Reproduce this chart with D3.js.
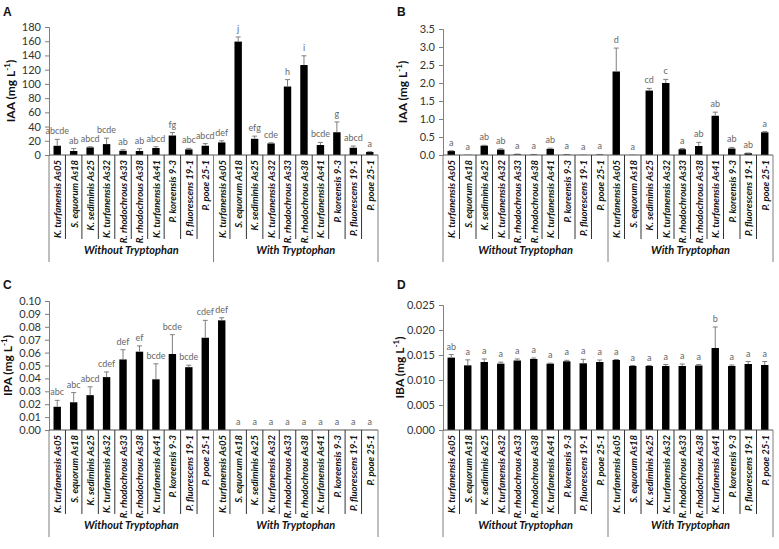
<!DOCTYPE html>
<html><head><meta charset="utf-8">
<script src="https://cdn.jsdelivr.net/npm/d3@7"></script>
<style>body{margin:0;background:#fff}svg{display:block}</style>
</head><body>
<svg id="c" width="779" height="549"></svg>
<script>
const categories = ["K. turfanensis As05","S. equorum As18","K. sediminis As25","K. turfanensis As32","R. rhodochrous As33","R. rhodochrous As38","K. turfanensis As41","P. koreensis 9-3","P. fluorescens 19-1","P. poae 25-1"];
const groups = ["Without Tryptophan","With Tryptophan"];

const iaaA = [13,5.6,10.7,15.3,6,5.6,9.8,27.4,7.9,13, 17.7,159.5,22.8,16.3,96.3,126.5,14,32,10.2,4.2];
const iaaAErr = [9,3.4,0.9,8.4,1.4,3.2,1.8,4.2,1.4,3, 2.3,6.5,3.7,0.9,9.7,13,3.7,14.5,2.4,0.5];
const iaaALetters = ["abcde","ab","abcd","bcde","ab","ab","abcd","fg","abc","abcd","def","j","efg","cde","h","i","bcde","g","abcd","a"];
const iaaATicks = [0,20,40,60,80,100,120,140,160,180];

const iaaB = [0.11,0.005,0.26,0.15,0.02,0.01,0.17,0.01,0.005,0.01, 2.32,0.005,1.79,2.0,0.16,0.25,1.09,0.18,0.05,0.63];
const iaaBErr = [0.01,0,0.01,0.02,0.005,0.005,0.02,0.005,0,0.005, 0.65,0,0.06,0.1,0.02,0.1,0.1,0.03,0.005,0.02];
const iaaBLetters = ["a","a","ab","ab","a","a","ab","a","a","a","d","a","cd","c","a","ab","ab","ab","ab","a"];
const iaaBTicks = [0,0.5,1.0,1.5,2.0,2.5,3.0,3.5];

const ipaC = [0.018,0.0215,0.027,0.041,0.0547,0.0607,0.0393,0.0589,0.0487,0.0715, 0.085,0,0,0,0,0,0,0,0,0];
const ipaCErr = [0.005,0.0075,0.0065,0.004,0.0075,0.0045,0.012,0.015,0.0015,0.0135, 0.002,0,0,0,0,0,0,0,0,0];
const ipaCLetters = ["abc","abc","abcd","cdef","def","ef","bcde","bcde","bcde","cdef","def","a","a","a","a","a","a","a","a","a"];
const ipaCTicks = [0,0.01,0.02,0.03,0.04,0.05,0.06,0.07,0.08,0.09,0.10];

const ibaD = [0.01448,0.01293,0.0136,0.01327,0.0139,0.0142,0.01327,0.01374,0.01334,0.0136, 0.0140,0.0128,0.0128,0.0128,0.0128,0.0129,0.0164,0.0128,0.0132,0.0130];
const ibaDErr = [0.0006,0.0011,0.0006,0.0003,0.0003,0.0002,0.0001,0.0002,0.0008,0.0004, 0.0001,0.0001,0.0001,0.0003,0.0004,0.0002,0.0042,0.0002,0.0005,0.0007];
const ibaDLetters = ["ab","a","a","a","a","a","a","a","a","a","a","a","a","a","a","a","b","a","a","a"];
const ibaDTicks = [0,0.005,0.010,0.015,0.020,0.025];

const svg = d3.select("#c");
const FONT = "Lato, 'Liberation Sans', sans-serif";

function panel(cfg){
  const g = svg.append("g");
  const labels = groups.flatMap(() => categories);
  const n = labels.length;
  const x = d3.scaleBand().domain(d3.range(n)).range([cfg.x0, cfg.x1]).paddingInner(0.55).paddingOuter(0.275);
  const step = x.step();
  const y = d3.scaleLinear().domain([0, cfg.max]).range([cfg.y0, cfg.yTop]);

  g.append("text").attr("x", cfg.lx).attr("y", cfg.ly).text(cfg.letter)
    .attr("font-family","'Liberation Sans', Arial, sans-serif").attr("font-weight","bold").attr("font-size",12).attr("fill","#111");

  const ax = g.append("g").attr("transform",`translate(${cfg.x0},0)`)
    .call(d3.axisLeft(y).tickValues(cfg.ticks).tickSize(4).tickPadding(4).tickFormat(cfg.fmt));
  ax.select(".domain").attr("stroke","#7f7f7f");
  ax.selectAll(".tick line").attr("stroke","#7f7f7f");
  ax.selectAll(".tick text").attr("font-family",FONT).attr("font-size",11).attr("fill","#333");

  const t = g.append("text").attr("transform",`translate(${cfg.tx},${(cfg.y0+cfg.yTop)/2}) rotate(-90)`)
    .attr("text-anchor","middle").attr("font-family",FONT).attr("font-weight","bold").attr("font-size",12).attr("fill","#111");
  t.append("tspan").text(cfg.title + " (mg L");
  t.append("tspan").attr("baseline-shift","super").attr("font-size",8).text("-1");
  t.append("tspan").text(")");

  g.selectAll("rect.bar").data(cfg.vals).join("rect").attr("class","bar")
    .attr("x",(d,i)=>x(i)).attr("width",x.bandwidth())
    .attr("y",d=>y(d)).attr("height",d=>cfg.y0-y(d)).attr("fill","#000");

  const cap = 2.5;
  cfg.errs.forEach((e,i)=>{
    if(e<=0) return;
    const cx = x(i)+x.bandwidth()/2;
    g.append("line").attr("x1",cx).attr("x2",cx).attr("y1",y(cfg.vals[i])).attr("y2",y(cfg.vals[i]+e)).attr("stroke","#7f7f7f").attr("stroke-width",1);
    g.append("line").attr("x1",cx-cap).attr("x2",cx+cap).attr("y1",y(cfg.vals[i]+e)).attr("y2",y(cfg.vals[i]+e)).attr("stroke","#7f7f7f").attr("stroke-width",1);
  });

  g.selectAll("text.sig").data(cfg.letters).join("text").attr("class","sig")
    .attr("x",(d,i)=>x(i)+x.bandwidth()/2)
    .attr("y",(d,i)=>y(cfg.vals[i]+cfg.errs[i]) - 5)
    .attr("text-anchor","middle").attr("font-family",FONT).attr("font-size",9).attr("fill","#666").text(d=>d);

  g.append("line").attr("x1",cfg.x0).attr("x2",cfg.x1).attr("y1",cfg.y0).attr("y2",cfg.y0).attr("stroke","#555");

  d3.range(n+1).forEach(i=>{
    const xx = cfg.x0 + i*step;
    const big = (i % categories.length === 0);
    g.append("line").attr("x1",xx).attr("x2",xx).attr("y1",cfg.y0).attr("y2",cfg.y0 + (big?107:84))
      .attr("stroke", big ? "#7f7f7f" : "#333").attr("stroke-width",1);
  });

  g.selectAll("text.cat").data(labels).join("text").attr("class","cat")
    .attr("transform",(d,i)=>`translate(${x(i)+x.bandwidth()/2+0.5},${cfg.y0+5}) rotate(-90)`)
    .attr("text-anchor","end").attr("dy","0.35em")
    .attr("font-family",FONT).attr("font-weight","bold").attr("font-style","italic").attr("font-size",9.5).attr("fill","#111")
    .text(d=>d);

  groups.forEach((gr,k)=>{
    const cx = cfg.x0 + (k*categories.length + categories.length/2)*step;
    g.append("text").attr("x",cx).attr("y",cfg.y0+99).attr("text-anchor","middle")
      .attr("font-family",FONT).attr("font-weight","bold").attr("font-style","italic").attr("font-size",11).attr("fill","#111").text(gr);
  });
}

panel({letter:"A",lx:3,ly:16,x0:49,x1:378,yTop:27,y0:155,max:180,ticks:iaaATicks,fmt:d3.format("d"),vals:iaaA,errs:iaaAErr,letters:iaaALetters,title:"IAA",tx:15});
panel({letter:"B",lx:397,ly:16,x0:443,x1:773,yTop:29,y0:155,max:3.5,ticks:iaaBTicks,fmt:d3.format(".1f"),vals:iaaB,errs:iaaBErr,letters:iaaBLetters,title:"IAA",tx:407});
panel({letter:"C",lx:3,ly:289,x0:49,x1:378,yTop:301,y0:430,max:0.10,ticks:ipaCTicks,fmt:d3.format(".2f"),vals:ipaC,errs:ipaCErr,letters:ipaCLetters,title:"IPA",tx:12});
panel({letter:"D",lx:397,ly:289,x0:443,x1:773,yTop:305,y0:430,max:0.025,ticks:ibaDTicks,fmt:d3.format(".3f"),vals:ibaD,errs:ibaDErr,letters:ibaDLetters,title:"IBA",tx:404});
</script>
</body></html>
